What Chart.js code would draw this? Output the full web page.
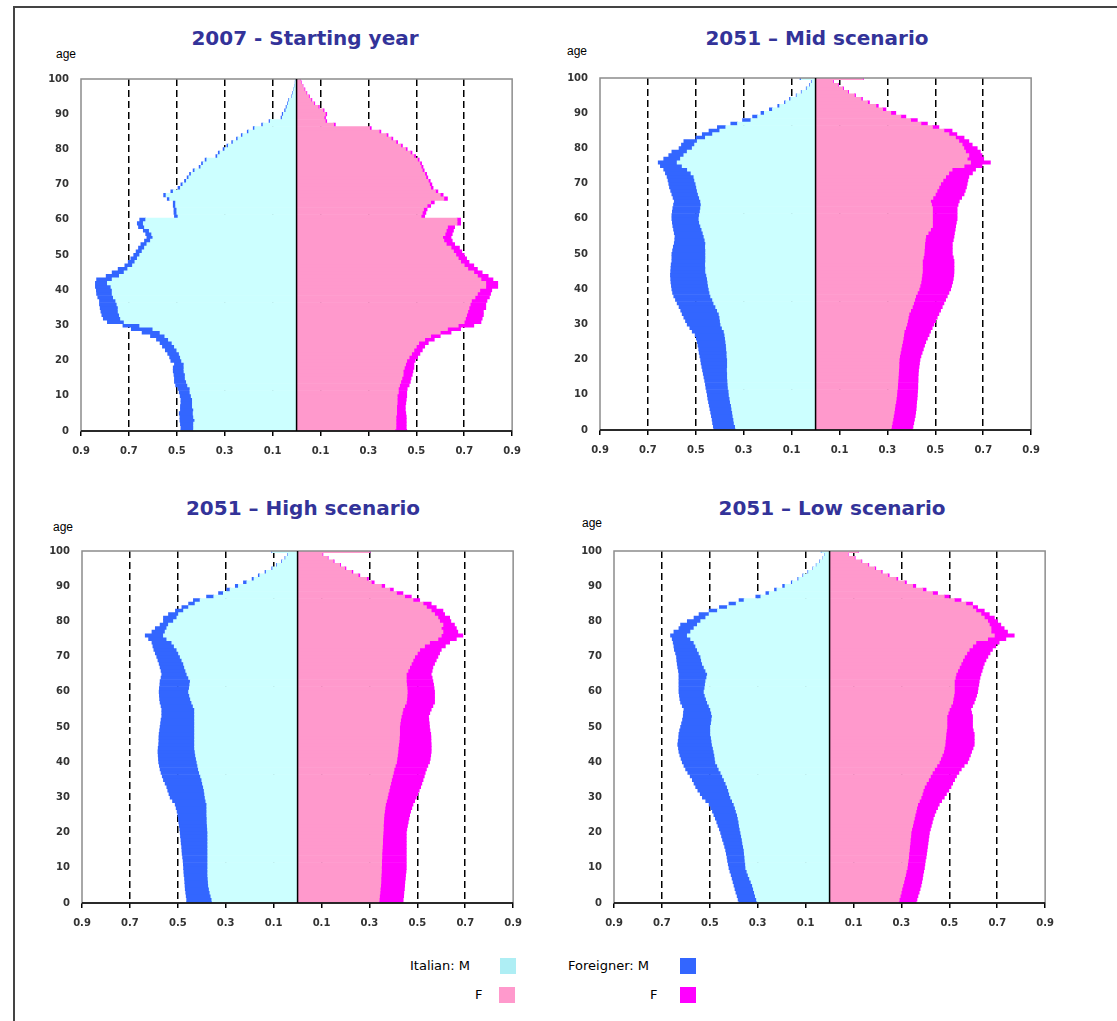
<!DOCTYPE html>
<html>
<head>
<meta charset="utf-8">
<script src="https://cdn.jsdelivr.net/npm/chart.js@4.4.1/dist/chart.umd.min.js"></script>
<style>
body { margin:0; background:#fff; width:1117px; height:1021px; overflow:hidden; position:relative; font-family:"Liberation Sans", Arial, sans-serif; }
#frame { position:absolute; left:13px; top:6px; width:1200px; height:1100px; border:2px solid #444; }
.panel { position:absolute; }
.title { position:absolute; font:bold 20px "DejaVu Sans", sans-serif; line-height:24px; color:#333399; transform:translateX(-50%); white-space:nowrap; }
.age { position:absolute; font-size:12px; line-height:14px; color:#000; }
.leg { position:absolute; font:13px "DejaVu Sans", sans-serif; line-height:16px; color:#000; }
.sw { position:absolute; width:16px; height:16px; }
</style>
</head>
<body>
<div id="frame"></div>

<div class="title" style="left:305px;top:26px">2007 - Starting year</div>
<div class="title" style="left:817px;top:26px">2051 – Mid scenario</div>
<div class="title" style="left:303px;top:496px">2051 – High scenario</div>
<div class="title" style="left:832px;top:496px">2051 – Low scenario</div>

<div class="age" style="left:56px;top:47px">age</div>
<div class="age" style="left:567px;top:44px">age</div>
<div class="age" style="left:53px;top:520px">age</div>
<div class="age" style="left:582px;top:516px">age</div>

<div class="panel" style="left:41px;top:61px"><canvas id="c07" width="489" height="398"></canvas></div>
<div class="panel" style="left:560px;top:60px"><canvas id="cMid" width="489" height="398"></canvas></div>
<div class="panel" style="left:42px;top:533px"><canvas id="cHigh" width="489" height="398"></canvas></div>
<div class="panel" style="left:574px;top:533px"><canvas id="cLow" width="489" height="398"></canvas></div>

<div class="leg" style="left:410px;top:958px">Italian: M</div>
<div class="sw" style="left:500px;top:958px;background:#aeeef4"></div>
<div class="leg" style="left:475px;top:987px">F</div>
<div class="sw" style="left:499px;top:987px;background:#ff99cc"></div>
<div class="leg" style="left:568px;top:958px">Foreigner: M</div>
<div class="sw" style="left:680px;top:958px;background:#3366ff"></div>
<div class="leg" style="left:650px;top:987px">F</div>
<div class="sw" style="left:680px;top:987px;background:#ff00ff"></div>

<script>
// ages 0..100, values are % of population per single year of age
const ages = [];
for (let i = 0; i <= 100; i++) ages.push(String(i));

// 2007 - starting year
const itM07 = [
0.43,0.43,0.43,0.425,0.43,0.432,0.43,0.435,0.435,0.435,
0.44,0.445,0.445,0.455,0.46,0.465,0.465,0.47,0.47,0.47,
0.48,0.485,0.49,0.5,0.51,0.52,0.535,0.55,0.57,0.6,
0.655,0.72,0.735,0.74,0.745,0.745,0.75,0.755,0.765,0.77,
0.77,0.775,0.79,0.77,0.74,0.72,0.705,0.685,0.675,0.665,
0.655,0.645,0.635,0.625,0.61,0.6,0.605,0.615,0.635,0.64,
0.63,0.495,0.5,0.5,0.505,0.505,0.53,0.545,0.515,0.485,
0.475,0.46,0.45,0.44,0.425,0.4,0.39,0.375,0.33,0.32,
0.3,0.285,0.265,0.245,0.225,0.2,0.175,0.14,0.11,0.06,
0.055,0.045,0.04,0.035,0.03,0.02,0.015,0.012,0.008,0.005,0.003];
const foM07 = [
0.053,0.053,0.055,0.062,0.057,0.058,0.055,0.05,0.048,0.048,
0.046,0.045,0.05,0.05,0.05,0.045,0.047,0.045,0.045,0.04,
0.045,0.045,0.048,0.048,0.05,0.05,0.05,0.06,0.075,0.09,
0.07,0.07,0.072,0.073,0.072,0.075,0.073,0.068,0.065,0.065,
0.066,0.065,0.05,0.065,0.055,0.05,0.04,0.032,0.028,0.027,
0.025,0.025,0.025,0.025,0.025,0.025,0.025,0.025,0.025,0.025,
0.025,0.015,0.012,0.012,0.01,0.01,0.01,0.01,0.01,0.01,
0.008,0.008,0.007,0.007,0.007,0.007,0.007,0.007,0.007,0.007,
0.007,0.006,0.006,0.006,0.006,0.006,0.006,0.006,0.005,0.005,
0.005,0.005,0.004,0.003,0.003,0.002,0.002,0.001,0.001,0.001,0.001];
const itF07 = [
0.41,0.415,0.415,0.415,0.415,0.418,0.418,0.418,0.42,0.42,
0.42,0.425,0.425,0.43,0.435,0.44,0.445,0.445,0.45,0.455,
0.46,0.47,0.48,0.49,0.5,0.51,0.535,0.56,0.6,0.63,
0.675,0.7,0.705,0.71,0.715,0.72,0.725,0.73,0.745,0.755,
0.765,0.79,0.79,0.77,0.755,0.74,0.715,0.7,0.685,0.675,
0.665,0.655,0.645,0.625,0.615,0.61,0.62,0.625,0.63,0.67,
0.67,0.52,0.525,0.53,0.545,0.56,0.615,0.6,0.58,0.56,
0.555,0.55,0.54,0.535,0.525,0.52,0.515,0.505,0.49,0.475,
0.455,0.435,0.415,0.395,0.375,0.345,0.305,0.155,0.12,0.115,
0.12,0.11,0.09,0.072,0.06,0.05,0.04,0.032,0.025,0.018,0.015];
const foF07 = [
0.05,0.043,0.043,0.043,0.043,0.038,0.036,0.036,0.036,0.038,
0.04,0.035,0.037,0.04,0.04,0.038,0.038,0.041,0.04,0.035,
0.035,0.035,0.035,0.035,0.035,0.04,0.04,0.04,0.045,0.055,
0.065,0.07,0.07,0.07,0.065,0.07,0.065,0.065,0.06,0.055,
0.05,0.05,0.05,0.05,0.045,0.035,0.04,0.04,0.035,0.035,
0.035,0.035,0.035,0.035,0.035,0.035,0.03,0.03,0.03,0.015,
0.015,0.015,0.015,0.015,0.015,0.015,0.015,0.012,0.01,0.01,
0.01,0.008,0.008,0.008,0.008,0.008,0.007,0.007,0.007,0.007,
0.007,0.007,0.007,0.007,0.007,0.007,0.007,0.007,0.006,0.006,
0.006,0.005,0.005,0.004,0.004,0.004,0.003,0.003,0.002,0.002,0.002];

// 2051 - mid scenario
const itMMid = [
0.333,0.335,0.34,0.342,0.345,0.347,0.35,0.352,0.356,0.358,
0.361,0.362,0.365,0.366,0.367,0.368,0.368,0.369,0.368,0.368,
0.368,0.37,0.37,0.372,0.373,0.375,0.377,0.379,0.382,0.39,
0.396,0.398,0.4,0.403,0.41,0.417,0.425,0.43,0.438,0.442,
0.445,0.448,0.45,0.452,0.455,0.459,0.459,0.46,0.459,0.459,
0.459,0.459,0.46,0.459,0.462,0.466,0.47,0.475,0.48,0.485,
0.487,0.485,0.482,0.48,0.478,0.48,0.485,0.49,0.494,0.497,
0.5,0.505,0.508,0.52,0.535,0.557,0.578,0.564,0.55,0.536,
0.515,0.505,0.494,0.46,0.43,0.4,0.375,0.326,0.27,0.242,
0.214,0.18,0.15,0.125,0.104,0.078,0.057,0.036,0.022,0.015,0.06];
const foMMid = [
0.091,0.092,0.09,0.09,0.09,0.091,0.091,0.092,0.091,0.092,
0.091,0.093,0.093,0.094,0.096,0.098,0.101,0.103,0.107,0.11,
0.112,0.113,0.116,0.116,0.118,0.119,0.121,0.124,0.133,0.135,
0.14,0.145,0.15,0.154,0.153,0.153,0.153,0.155,0.154,0.155,
0.155,0.154,0.154,0.153,0.151,0.146,0.145,0.143,0.141,0.141,
0.141,0.138,0.134,0.131,0.126,0.121,0.12,0.118,0.116,0.113,
0.113,0.115,0.116,0.116,0.115,0.11,0.11,0.11,0.111,0.113,
0.113,0.111,0.112,0.107,0.099,0.091,0.079,0.07,0.063,0.064,
0.055,0.055,0.056,0.04,0.043,0.045,0.035,0.028,0.035,0.021,
0.014,0.013,0.008,0.005,0.005,0.003,0.003,0.003,0.003,0.003,0.005];
const itFMid = [
0.314,0.317,0.32,0.323,0.325,0.328,0.33,0.332,0.335,0.337,
0.339,0.34,0.342,0.343,0.344,0.345,0.346,0.347,0.348,0.348,
0.349,0.351,0.354,0.357,0.36,0.363,0.366,0.368,0.37,0.376,
0.381,0.384,0.387,0.39,0.397,0.404,0.409,0.414,0.418,0.425,
0.432,0.436,0.44,0.442,0.444,0.446,0.446,0.446,0.446,0.45,
0.453,0.454,0.455,0.456,0.458,0.46,0.47,0.48,0.488,0.488,
0.488,0.488,0.488,0.488,0.484,0.48,0.49,0.5,0.507,0.515,
0.522,0.532,0.543,0.556,0.57,0.62,0.647,0.633,0.64,0.626,
0.619,0.612,0.598,0.584,0.557,0.536,0.488,0.44,0.397,0.356,
0.314,0.28,0.252,0.217,0.19,0.162,0.134,0.113,0.093,0.072,0.197];
const foFMid = [
0.09,0.09,0.09,0.09,0.091,0.09,0.09,0.089,0.087,0.087,
0.086,0.086,0.085,0.084,0.084,0.083,0.083,0.083,0.084,0.086,
0.087,0.089,0.091,0.093,0.095,0.097,0.101,0.106,0.11,0.111,
0.113,0.117,0.121,0.125,0.125,0.125,0.127,0.129,0.132,0.132,
0.132,0.132,0.132,0.133,0.133,0.132,0.132,0.132,0.132,0.125,
0.118,0.117,0.116,0.115,0.117,0.118,0.11,0.103,0.097,0.1,
0.103,0.103,0.103,0.103,0.111,0.12,0.12,0.12,0.118,0.115,
0.111,0.104,0.097,0.099,0.098,0.075,0.083,0.069,0.055,0.062,
0.056,0.042,0.042,0.036,0.033,0.034,0.027,0.027,0.028,0.021,
0.021,0.014,0.01,0.008,0.006,0.005,0.004,0.004,0.003,0.003,0.003];

// 2051 - high scenario
const itMHigh = [
0.356,0.358,0.362,0.366,0.369,0.372,0.373,0.374,0.375,0.375,
0.375,0.375,0.375,0.375,0.375,0.375,0.375,0.375,0.375,0.375,
0.375,0.376,0.377,0.378,0.378,0.379,0.379,0.379,0.379,0.383,
0.386,0.388,0.39,0.393,0.397,0.4,0.405,0.41,0.414,0.417,
0.42,0.423,0.426,0.428,0.43,0.43,0.43,0.43,0.43,0.43,
0.43,0.43,0.43,0.43,0.43,0.43,0.436,0.442,0.447,0.451,
0.455,0.452,0.45,0.448,0.455,0.462,0.467,0.472,0.476,0.483,
0.49,0.497,0.504,0.515,0.525,0.546,0.56,0.553,0.546,0.539,
0.518,0.504,0.497,0.476,0.455,0.428,0.407,0.35,0.31,0.282,
0.247,0.212,0.182,0.158,0.131,0.104,0.085,0.064,0.05,0.04,0.105];
const foMHigh = [
0.107,0.105,0.103,0.101,0.1,0.098,0.098,0.098,0.099,0.1,
0.101,0.102,0.103,0.105,0.107,0.108,0.109,0.111,0.112,0.114,
0.115,0.116,0.117,0.118,0.12,0.121,0.124,0.128,0.132,0.139,
0.146,0.149,0.152,0.153,0.156,0.16,0.16,0.16,0.16,0.16,
0.16,0.158,0.156,0.155,0.152,0.15,0.149,0.149,0.148,0.146,
0.144,0.142,0.14,0.137,0.137,0.137,0.134,0.132,0.129,0.126,
0.123,0.125,0.125,0.126,0.115,0.105,0.103,0.102,0.102,0.1,
0.098,0.097,0.096,0.089,0.083,0.076,0.076,0.055,0.048,0.035,
0.042,0.056,0.042,0.034,0.028,0.027,0.028,0.03,0.02,0.014,
0.013,0.014,0.008,0.006,0.005,0.004,0.003,0.003,0.003,0.002,0.003];
const itFHigh = [
0.339,0.341,0.342,0.344,0.345,0.347,0.348,0.348,0.349,0.35,
0.35,0.351,0.351,0.352,0.352,0.353,0.354,0.355,0.355,0.356,
0.357,0.358,0.358,0.359,0.36,0.361,0.363,0.365,0.367,0.371,
0.375,0.378,0.382,0.385,0.389,0.392,0.396,0.4,0.403,0.408,
0.413,0.415,0.417,0.419,0.42,0.422,0.424,0.425,0.426,0.426,
0.426,0.428,0.43,0.433,0.437,0.44,0.447,0.454,0.456,0.457,
0.458,0.457,0.455,0.454,0.454,0.454,0.461,0.468,0.475,0.482,
0.489,0.5,0.51,0.53,0.551,0.586,0.6,0.607,0.6,0.607,
0.593,0.586,0.572,0.558,0.538,0.524,0.482,0.447,0.413,0.385,
0.35,0.308,0.288,0.253,0.225,0.197,0.176,0.149,0.125,0.103,0.3];
const foFHigh = [
0.101,0.1,0.101,0.1,0.101,0.1,0.1,0.102,0.102,0.103,
0.104,0.103,0.103,0.102,0.102,0.101,0.1,0.099,0.099,0.098,
0.097,0.098,0.101,0.103,0.105,0.107,0.109,0.112,0.115,0.118,
0.121,0.124,0.126,0.129,0.13,0.132,0.133,0.133,0.135,0.136,
0.138,0.139,0.139,0.139,0.138,0.136,0.133,0.132,0.13,0.127,
0.125,0.122,0.118,0.114,0.115,0.118,0.118,0.118,0.116,0.115,
0.114,0.113,0.113,0.111,0.108,0.104,0.101,0.097,0.097,0.097,
0.097,0.093,0.09,0.087,0.084,0.077,0.09,0.062,0.063,0.048,
0.047,0.049,0.042,0.049,0.041,0.034,0.028,0.028,0.027,0.015,
0.014,0.012,0.008,0.007,0.006,0.005,0.004,0.004,0.003,0.003,0.003];

// 2051 - low scenario
const itMLow = [
0.301,0.305,0.31,0.314,0.318,0.322,0.328,0.334,0.34,0.345,
0.35,0.351,0.353,0.354,0.356,0.357,0.36,0.363,0.365,0.368,
0.371,0.374,0.377,0.379,0.382,0.385,0.39,0.394,0.399,0.406,
0.413,0.418,0.422,0.427,0.433,0.44,0.447,0.454,0.462,0.468,
0.476,0.478,0.48,0.483,0.486,0.49,0.492,0.494,0.497,0.497,
0.497,0.494,0.492,0.49,0.493,0.497,0.503,0.51,0.515,0.52,
0.524,0.521,0.519,0.517,0.513,0.51,0.517,0.524,0.531,0.535,
0.538,0.545,0.552,0.559,0.566,0.58,0.594,0.58,0.566,0.552,
0.538,0.517,0.503,0.468,0.427,0.39,0.357,0.287,0.252,0.22,
0.186,0.155,0.129,0.109,0.088,0.068,0.054,0.04,0.027,0.02,0.033];
const foMLow = [
0.077,0.077,0.076,0.077,0.077,0.077,0.075,0.073,0.071,0.071,
0.07,0.072,0.073,0.074,0.075,0.077,0.078,0.079,0.082,0.083,
0.084,0.086,0.089,0.092,0.095,0.098,0.099,0.102,0.104,0.111,
0.118,0.122,0.128,0.132,0.133,0.133,0.135,0.138,0.139,0.14,
0.139,0.142,0.145,0.146,0.145,0.144,0.14,0.136,0.132,0.129,
0.125,0.124,0.122,0.121,0.117,0.111,0.112,0.112,0.11,0.107,
0.105,0.108,0.11,0.112,0.116,0.119,0.114,0.11,0.105,0.103,
0.101,0.098,0.096,0.091,0.087,0.077,0.07,0.07,0.063,0.07,
0.056,0.049,0.042,0.035,0.033,0.03,0.021,0.021,0.014,0.01,
0.01,0.005,0.004,0.003,0.003,0.002,0.002,0.002,0.001,0.001,0.002];
const itFLow = [
0.288,0.291,0.295,0.299,0.302,0.306,0.31,0.313,0.317,0.32,
0.324,0.326,0.328,0.33,0.331,0.333,0.334,0.336,0.337,0.339,
0.34,0.343,0.347,0.35,0.354,0.357,0.361,0.364,0.368,0.375,
0.382,0.387,0.391,0.396,0.404,0.413,0.421,0.429,0.438,0.448,
0.458,0.464,0.47,0.476,0.479,0.482,0.483,0.485,0.486,0.488,
0.49,0.49,0.49,0.49,0.495,0.5,0.507,0.514,0.516,0.519,
0.521,0.521,0.521,0.521,0.525,0.528,0.535,0.542,0.549,0.556,
0.563,0.573,0.583,0.597,0.611,0.66,0.688,0.674,0.674,0.667,
0.66,0.646,0.632,0.611,0.597,0.569,0.521,0.479,0.43,0.389,
0.347,0.313,0.278,0.243,0.215,0.188,0.16,0.132,0.104,0.076,0.118];
const foFLow = [
0.073,0.074,0.074,0.075,0.076,0.076,0.075,0.075,0.073,0.073,
0.072,0.072,0.072,0.073,0.074,0.074,0.075,0.075,0.076,0.076,
0.077,0.078,0.078,0.079,0.079,0.081,0.083,0.087,0.09,0.093,
0.097,0.101,0.107,0.111,0.11,0.109,0.109,0.111,0.112,0.114,
0.118,0.118,0.118,0.117,0.12,0.122,0.121,0.119,0.118,0.112,
0.107,0.107,0.107,0.107,0.098,0.09,0.09,0.09,0.093,0.095,
0.097,0.099,0.102,0.104,0.103,0.104,0.102,0.099,0.097,0.097,
0.098,0.097,0.097,0.097,0.097,0.076,0.083,0.069,0.055,0.048,
0.041,0.042,0.035,0.035,0.021,0.028,0.028,0.021,0.021,0.014,
0.013,0.008,0.007,0.006,0.005,0.005,0.004,0.003,0.003,0.002,0.002];

// grey plot frame, black x axis and black zero line
const frame = {
    id: 'frame',
    afterDatasetsDraw(chart) {
        const ctx = chart.ctx;
        const a = chart.chartArea;
        const x0 = chart.scales.x.getPixelForValue(0);
        ctx.save();
        ctx.strokeStyle = '#8c8c8c';
        ctx.lineWidth = 1.5;
        ctx.strokeRect(a.left, a.top, a.right - a.left, a.bottom - a.top);
        ctx.strokeStyle = '#000';
        ctx.beginPath();
        ctx.moveTo(x0, a.top);
        ctx.lineTo(x0, a.bottom);
        ctx.moveTo(a.left, a.bottom);
        ctx.lineTo(a.right, a.bottom);
        ctx.stroke();
        ctx.restore();
    }
};

const tickFont = { family: 'DejaVu Sans', size: 10, weight: 'bold' };

function pyramid(id, itM, foM, itF, foF) {
    const neg = arr => arr.map(v => -v);
    new Chart(document.getElementById(id), {
        type: 'bar',
        data: {
            labels: ages,
            datasets: [
                { label: 'Italian M', data: neg(itM), backgroundColor: '#ccffff' },
                { label: 'Foreigner M', data: neg(foM), backgroundColor: '#3366ff' },
                { label: 'Italian F', data: itF, backgroundColor: '#ff99cc' },
                { label: 'Foreigner F', data: foF, backgroundColor: '#ff00ff' }
            ]
        },
        options: {
            indexAxis: 'y',
            responsive: false,
            animation: false,
            layout: { padding: { top: 6, right: 14, left: 0, bottom: 0 } },
            plugins: { legend: { display: false }, tooltip: { enabled: false } },
            datasets: { bar: { barPercentage: 1, categoryPercentage: 1, borderWidth: 0 } },
            scales: {
                x: {
                    type: 'linear',
                    stacked: true,
                    min: -0.9,
                    max: 0.9,
                    afterFit: s => { s.height = 28; },
                    border: { display: false, dash: [7, 4] },
                    grid: {
                        color: c => Math.abs(Math.abs(c.tick.value) - 0.9) < 1e-6 ? 'rgba(0,0,0,0)' : '#000',
                        lineWidth: 1.5,
                        tickLength: 5,
                        tickColor: '#000',
                        tickWidth: 1.5,
                        tickBorderDash: []
                    },
                    ticks: {
                        stepSize: 0.2,
                        padding: 9,
                        color: '#333',
                        font: tickFont,
                        maxRotation: 0,
                        autoSkip: false,
                        callback: v => Math.abs(v).toFixed(1)
                    }
                },
                y: {
                    type: 'category',
                    stacked: true,
                    reverse: true,
                    offset: false,
                    afterFit: s => { s.width = 40; },
                    border: { display: false },
                    grid: { display: false, drawTicks: false },
                    ticks: {
                        autoSkip: false,
                        padding: 12,
                        color: '#333',
                        font: tickFont,
                        callback: function (v) {
                            const a = this.getLabelForValue(v);
                            return Number(a) % 10 === 0 ? a : '';
                        }
                    }
                }
            }
        },
        plugins: [frame]
    });
}

pyramid('c07', itM07, foM07, itF07, foF07);
pyramid('cMid', itMMid, foMMid, itFMid, foFMid);
pyramid('cHigh', itMHigh, foMHigh, itFHigh, foFHigh);
pyramid('cLow', itMLow, foMLow, itFLow, foFLow);
</script>
</body>
</html>
